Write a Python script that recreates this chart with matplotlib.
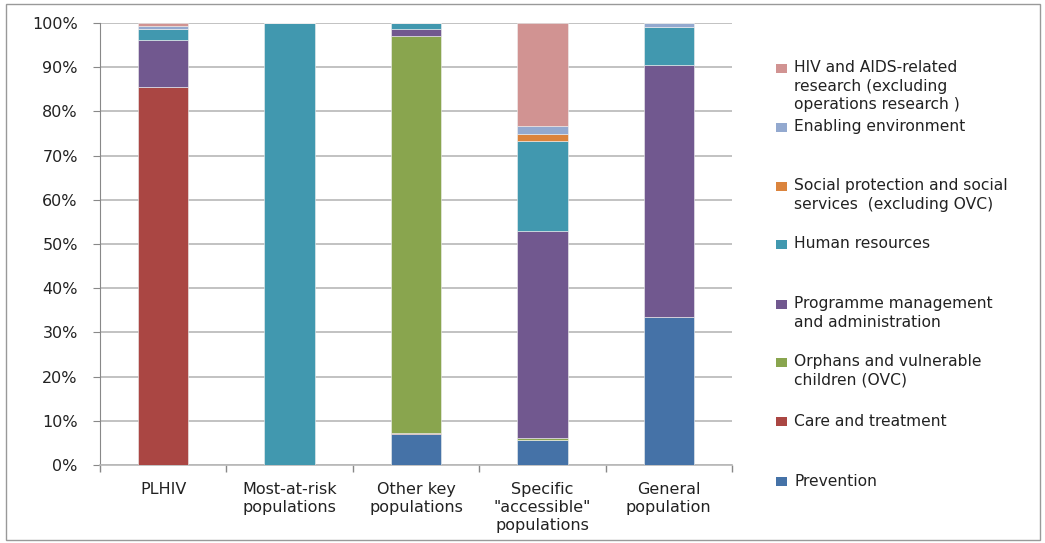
import matplotlib
matplotlib.use("Agg")
import matplotlib.pyplot as plt
from matplotlib.patches import Rectangle
from matplotlib.ticker import FuncFormatter, FixedLocator, NullFormatter
import numpy as np

categories = ["PLHIV", "Most-at-risk\npopulations", "Other key\npopulations",
              "Specific\n\"accessible\"\npopulations", "General\npopulation"]
series_names = ["Prevention", "Care and treatment", "Orphans and vulnerable\nchildren (OVC)",
                "Programme management\nand administration", "Human resources",
                "Social protection and social\nservices  (excluding OVC)",
                "Enabling environment",
                "HIV and AIDS-related\nresearch (excluding\noperations research )"]
prevention = [0.0, 0.0, 7.0, 5.7, 33.4]
care       = [85.5, 0.0, 0.2, 0.0, 0.0]
ovc        = [0.0, 0.0, 89.9, 0.5, 0.0]
progmgmt   = [10.7, 0.0, 1.5, 46.8, 57.0]
hr         = [2.4, 100.0, 1.4, 20.2, 8.8]
social     = [0.0, 0.0, 0.0, 1.7, 0.0]
enabling   = [0.8, 0.0, 0.0, 1.7, 0.8]
research   = [0.6, 0.0, 0.0, 23.4, 0.0]
colors = ["#4572A7", "#AA4643", "#89A54E", "#71588F", "#4198AF", "#DB843D", "#93A9CF", "#D19392"]

series = [prevention, care, ovc, progmgmt, hr, social, enabling, research]

plt.rcParams['font.family'] = ['DejaVu Sans']
fig = plt.figure(figsize=(10.45, 5.43), dpi=100)
W, H = 1045, 543
ax = fig.add_axes([100 / W, 1 - 465 / H, 632 / W, (465 - 23) / H])

x = np.arange(len(categories))
bottom = np.zeros(len(categories))
for vals, c in zip(series, colors):
    v = np.array(vals) / 100.0
    ax.bar(x, v, width=0.40, bottom=bottom, color=c, edgecolor="#f0f0f0", linewidth=0.4, zorder=3)
    bottom += v

ax.set_xlim(-0.5, len(categories) - 0.5)
ax.set_ylim(0, 1)
ax.set_yticks(np.linspace(0, 1, 11))
ax.yaxis.set_major_formatter(FuncFormatter(lambda v, p: f"{int(round(v*100))}%"))
ax.grid(axis="y", color="#b8b8b8", linewidth=1.2, zorder=0)
ax.set_xticks(x)
ax.set_xticklabels(categories, fontsize=11.5, color="#222222", linespacing=1.25)
ax.tick_params(axis="x", length=0, pad=12)
ax.xaxis.set_minor_locator(FixedLocator(np.arange(-0.5, len(categories), 1.0)))
ax.xaxis.set_minor_formatter(NullFormatter())
ax.tick_params(axis="x", which="minor", length=5, color="#888888", width=1)
ax.tick_params(axis="y", length=5, color="#888888", labelsize=11.5, labelcolor="#222222", pad=11)
for s in ["top", "right"]:
    ax.spines[s].set_visible(False)
ax.spines["left"].set_color("#888888")
ax.spines["bottom"].set_color("#b8b8b8")
ax.spines["bottom"].set_linewidth(1.2)

# legend (Excel-style, items spread vertically, reversed order)
legend_y = [481, 421, 371, 313, 244, 195, 127, 86]
for name, c, yc in zip(series_names, colors, legend_y):
    nlines = name.count("\n") + 1
    fig.patches.append(Rectangle((776 / W, 1 - (yc - (nlines - 1) * 9 + 5) / H), 11 / W, 9 / H,
                                 transform=fig.transFigure, facecolor=c, edgecolor="none"))
    fig.text(794 / W, 1 - yc / H, name, fontsize=11.2, color="#222222", va="center", ha="left",
             linespacing=1.26)

fig.patches.append(Rectangle((6 / W, 1 - 540 / H), 1034 / W, 536 / H, transform=fig.transFigure,
                             facecolor="none", edgecolor="#999999", linewidth=1))
fig.savefig("out.png", dpi=100)
